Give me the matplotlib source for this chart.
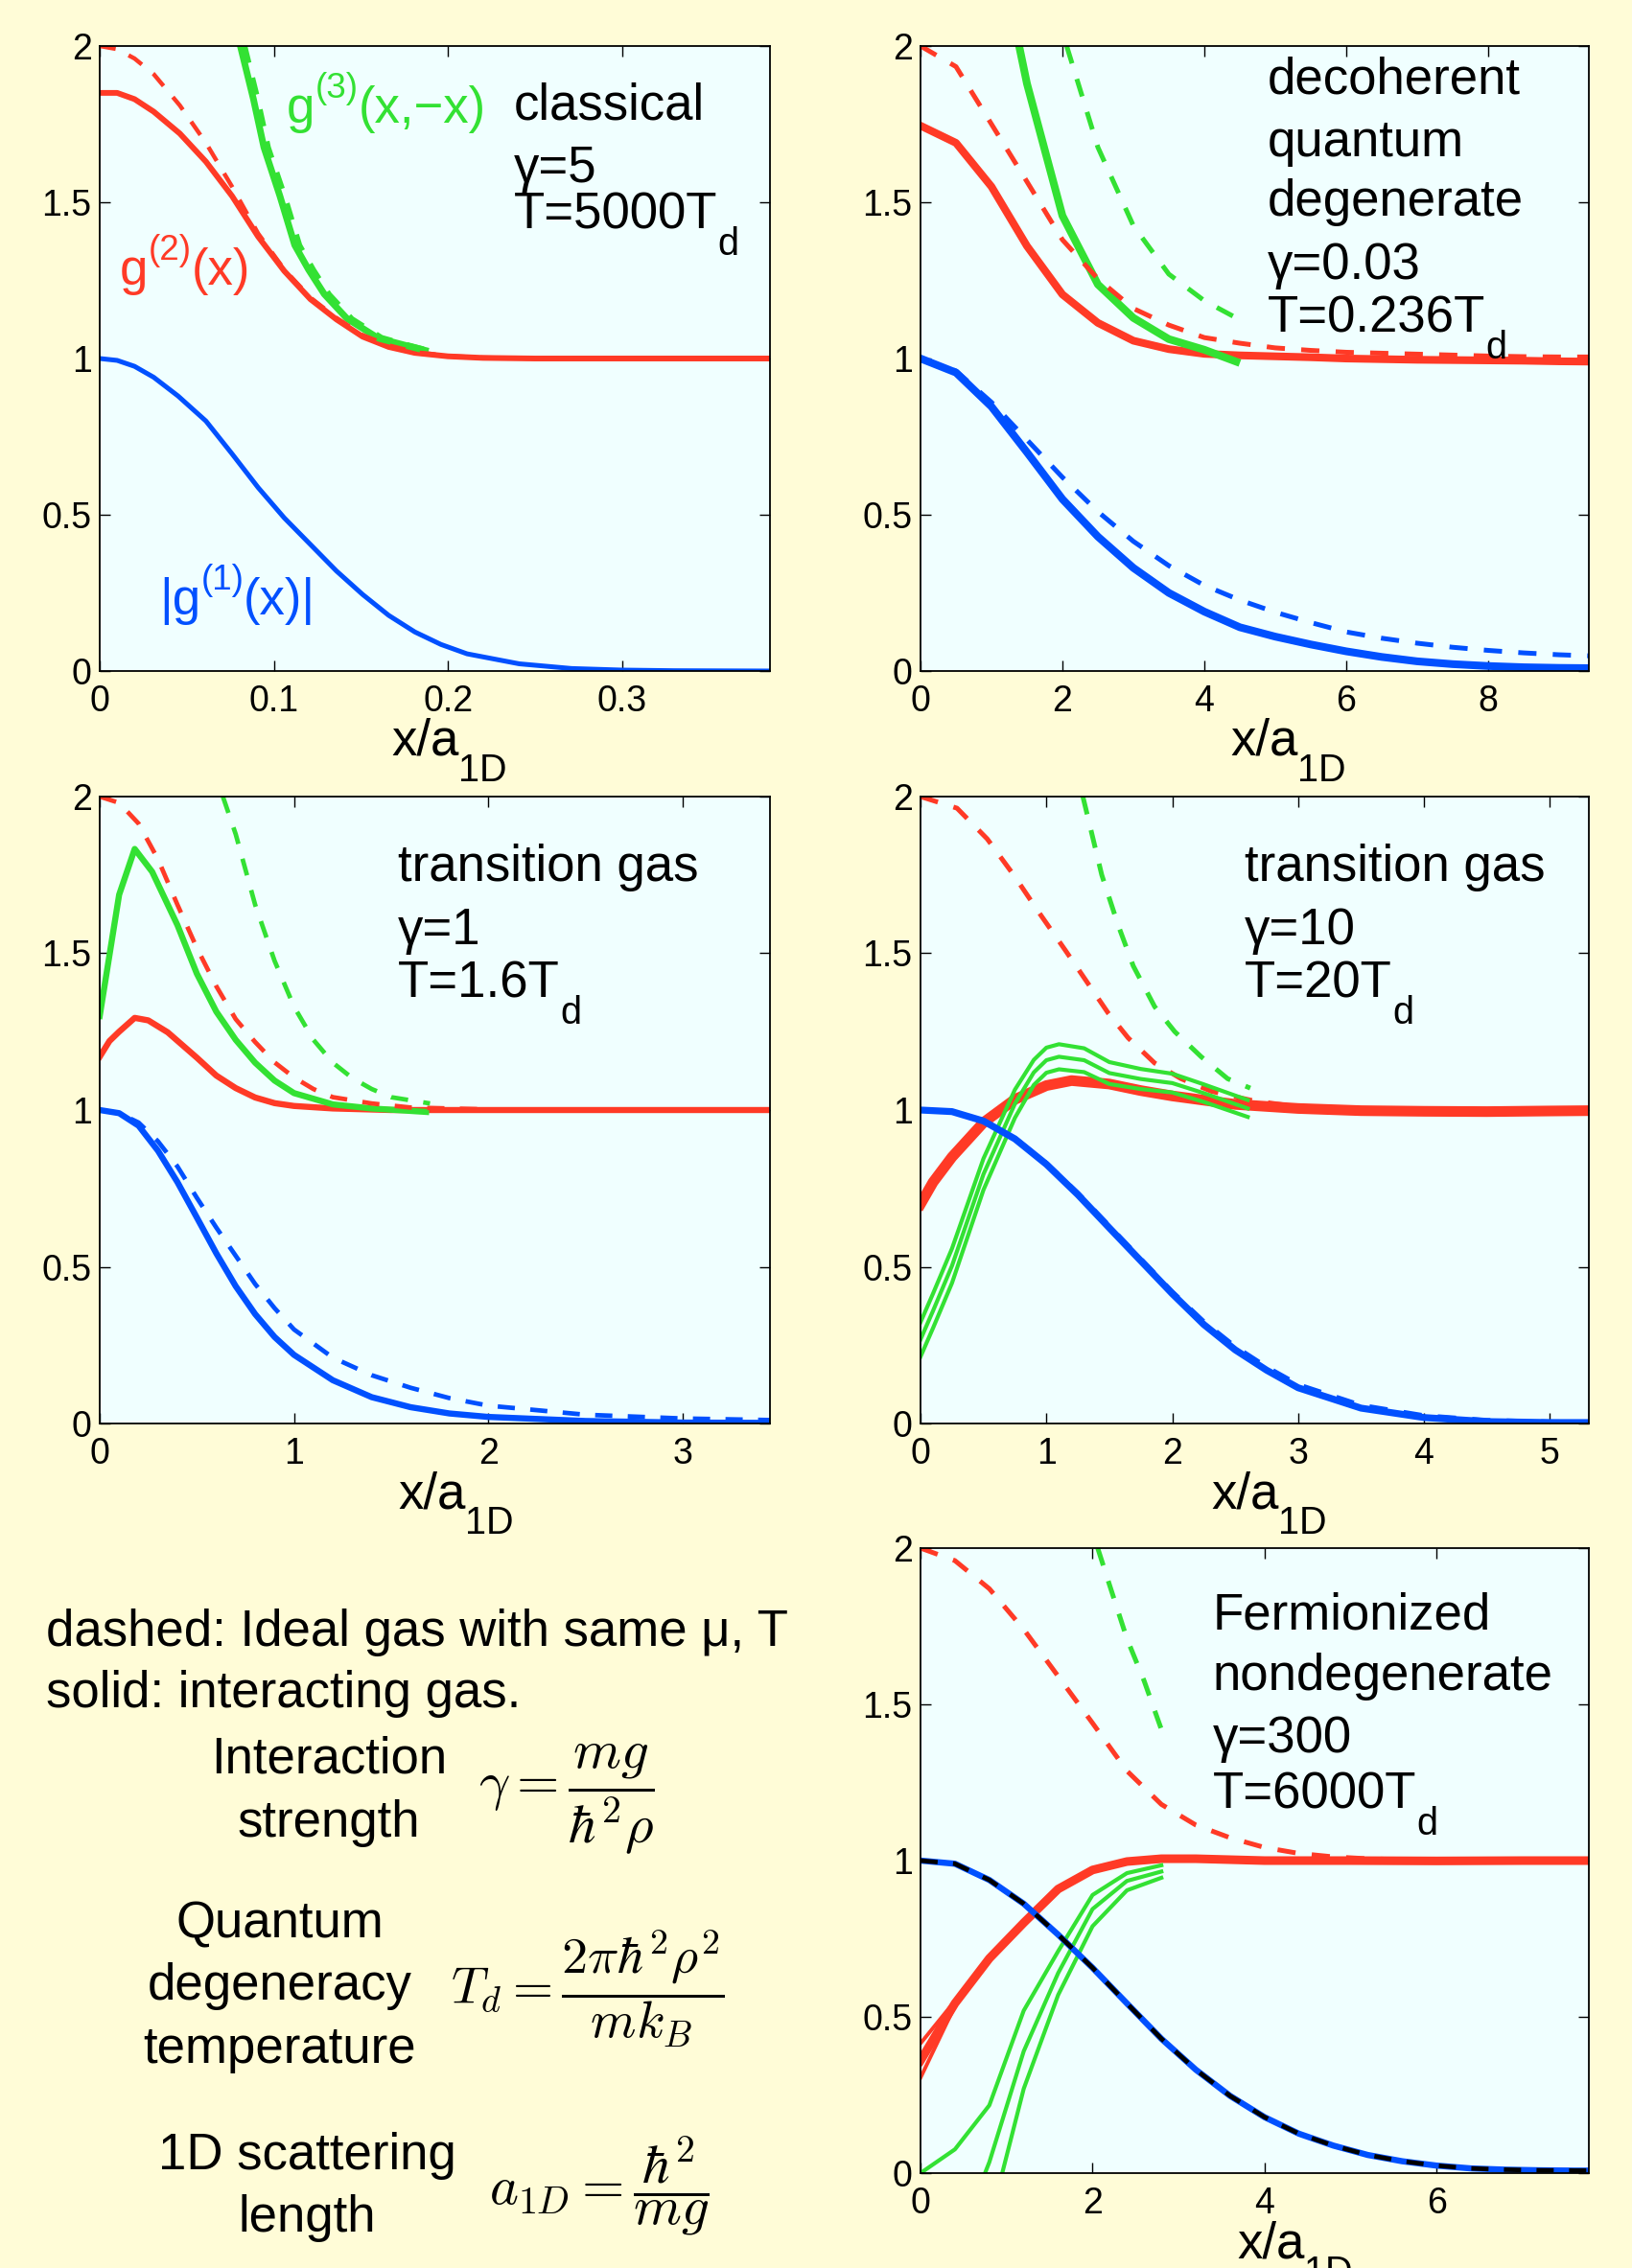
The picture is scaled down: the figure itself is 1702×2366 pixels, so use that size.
import matplotlib
matplotlib.use('Agg')
import matplotlib.pyplot as plt
from matplotlib.transforms import IdentityTransform

# ---------------- data ----------------
# Panel 1: classical, gamma=5, T=5000 Td
p1_x_g1 = [0, 0.01, 0.02, 0.031, 0.045, 0.061, 0.076, 0.091, 0.106, 0.121, 0.136, 0.151, 0.166, 0.181, 0.196, 0.211, 0.241, 0.271, 0.30, 0.33, 0.385]
p1_g1 = [1, 0.994, 0.975, 0.94, 0.88, 0.80, 0.695, 0.587, 0.49, 0.405, 0.32, 0.245, 0.178, 0.125, 0.085, 0.055, 0.023, 0.008, 0.003, 0.001, 0.0]
p1_x_g2 = [0, 0.01, 0.02, 0.031, 0.046, 0.061, 0.076, 0.091, 0.106, 0.121, 0.136, 0.151, 0.166, 0.181, 0.2, 0.22, 0.25, 0.3, 0.385]
p1_g2 = [1.85, 1.85, 1.83, 1.79, 1.72, 1.63, 1.52, 1.39, 1.28, 1.19, 1.125, 1.07, 1.037, 1.018, 1.007, 1.002, 1.0, 1.0, 1.0]
p1_g2_ideal = [2.0, 1.99, 1.96, 1.91, 1.81, 1.69, 1.55, 1.40, 1.285, 1.195, 1.13, 1.075, 1.042, 1.021, 1.008, 1.003, 1.0, 1.0, 1.0]
p1_x_g3 = [0.0808, 0.0883, 0.0943, 0.1035, 0.112, 0.12, 0.129, 0.142, 0.160, 0.175, 0.187]
p1_g3 = [2.0, 1.83, 1.676, 1.52, 1.363, 1.284, 1.206, 1.128, 1.065, 1.043, 1.026]
p1_x_g3_ideal = [0.0835, 0.091, 0.097, 0.1065, 0.115, 0.123, 0.132, 0.145, 0.162, 0.176, 0.187]
p1_g3_ideal = [2.0, 1.83, 1.676, 1.52, 1.363, 1.284, 1.206, 1.128, 1.068, 1.046, 1.03]

# Panel 2: decoherent quantum degenerate, gamma=0.03, T=0.236 Td
p2_x = [0, 0.5, 1, 1.5, 2, 2.5, 3, 3.5, 4, 4.5, 5, 5.5, 6, 6.5, 7, 7.5, 8, 8.5, 9, 9.5]
p2_g1 = [1, 0.955, 0.846, 0.70, 0.55, 0.43, 0.33, 0.25, 0.19, 0.14, 0.11, 0.085, 0.063, 0.045, 0.031, 0.022, 0.016, 0.012, 0.01, 0.009]
p2_g1_ideal = [1, 0.96, 0.86, 0.74, 0.62, 0.51, 0.415, 0.337, 0.274, 0.227, 0.188, 0.155, 0.125, 0.105, 0.089, 0.076, 0.066, 0.058, 0.052, 0.048]
p2_g2 = [1.745, 1.69, 1.55, 1.36, 1.205, 1.114, 1.057, 1.03, 1.015, 1.01, 1.007, 1.004, 1.0, 0.998, 0.996, 0.995, 0.994, 0.993, 0.991, 0.99]
p2_g2_ideal = [2.0, 1.934, 1.75, 1.566, 1.38, 1.255, 1.16, 1.107, 1.067, 1.049, 1.034, 1.026, 1.02, 1.017, 1.014, 1.011, 1.008, 1.006, 1.005, 1.005]
p2_x_g3 = [1.39, 1.5, 2, 2.5, 3, 3.5, 4, 4.45]
p2_g3 = [2.0, 1.88, 1.457, 1.237, 1.13, 1.062, 1.028, 0.99]
p2_x_g3_ideal = [2.06, 2.5, 3, 3.5, 4, 4.45]
p2_g3_ideal = [2.0, 1.676, 1.425, 1.27, 1.185, 1.13]

# Panel 3: transition gas, gamma=1, T=1.6 Td
p3_x_g1 = [0, 0.1, 0.2, 0.3, 0.4, 0.5, 0.6, 0.7, 0.8, 0.9, 1.0, 1.2, 1.4, 1.6, 1.8, 2.0, 2.5, 3.0, 3.45]
p3_g1 = [1, 0.99, 0.95, 0.87, 0.77, 0.657, 0.543, 0.438, 0.349, 0.276, 0.219, 0.138, 0.084, 0.052, 0.032, 0.021, 0.008, 0.003, 0.002]
p3_g1_ideal = [1, 0.99, 0.96, 0.90, 0.82, 0.72, 0.625, 0.535, 0.445, 0.368, 0.30, 0.21, 0.154, 0.114, 0.081, 0.057, 0.028, 0.016, 0.011]
p3_x_g2 = [0, 0.05, 0.1, 0.18, 0.25, 0.35, 0.5, 0.6, 0.7, 0.8, 0.9, 1.0, 1.2, 1.5, 2, 2.5, 3, 3.45]
p3_g2 = [1.17, 1.22, 1.25, 1.294, 1.286, 1.248, 1.167, 1.11, 1.07, 1.04, 1.022, 1.013, 1.005, 1.0, 1.0, 1.0, 1.0, 1.0]
p3_x_g2_ideal = [0, 0.1, 0.2, 0.3, 0.4, 0.5, 0.6, 0.7, 0.8, 0.9, 1.0, 1.1, 1.2, 1.4, 1.6, 2.0, 2.5, 3.0, 3.45]
p3_g2_ideal = [2.0, 1.98, 1.914, 1.80, 1.655, 1.517, 1.395, 1.29, 1.217, 1.152, 1.104, 1.067, 1.041, 1.021, 1.008, 1.002, 1.0, 1.0, 1.0]
p3_x_g3 = [0, 0.1, 0.18, 0.27, 0.4, 0.5, 0.6, 0.7, 0.8, 0.9, 1.0, 1.2, 1.4, 1.68]
p3_g3 = [1.30, 1.687, 1.833, 1.76, 1.59, 1.435, 1.314, 1.224, 1.151, 1.094, 1.054, 1.018, 1.005, 0.994]
p3_x_g3_ideal = [0.634, 0.7, 0.8, 0.9, 1.0, 1.1, 1.2, 1.3, 1.4, 1.5, 1.7]
p3_g3_ideal = [2.0, 1.88, 1.655, 1.476, 1.33, 1.224, 1.151, 1.102, 1.067, 1.041, 1.021]

# Panel 4: transition gas, gamma=10, T=20 Td
p4_x_g1 = [0, 0.25, 0.5, 0.75, 1.0, 1.25, 1.5, 1.75, 2.0, 2.25, 2.5, 2.75, 3.0, 3.5, 4.0, 4.5, 5.0, 5.31]
p4_g1 = [1, 0.995, 0.965, 0.908, 0.827, 0.73, 0.624, 0.519, 0.414, 0.316, 0.235, 0.17, 0.114, 0.049, 0.019, 0.006, 0.003, 0.003]
p4_g1_ideal = [1, 0.995, 0.965, 0.91, 0.83, 0.735, 0.63, 0.525, 0.42, 0.325, 0.245, 0.18, 0.124, 0.058, 0.025, 0.01, 0.005, 0.004]
p4_x_g2 = [0, 0.1, 0.25, 0.5, 0.75, 1.0, 1.2, 1.5, 1.75, 2.0, 2.5, 3.0, 3.5, 4.0, 4.5, 5.0, 5.31]
p4_g2 = [0.70, 0.77, 0.85, 0.96, 1.034, 1.078, 1.094, 1.083, 1.062, 1.045, 1.018, 1.005, 0.998, 0.996, 0.995, 0.997, 0.998]
p4_x_g2_ideal = [0, 0.29, 0.53, 0.74, 0.95, 1.15, 1.32, 1.49, 1.65, 1.86, 2.07, 2.31, 2.64, 3.0, 3.5, 4.0, 5.31]
p4_g2_ideal = [2.0, 1.963, 1.865, 1.75, 1.625, 1.51, 1.41, 1.31, 1.23, 1.15, 1.10, 1.06, 1.03, 1.01, 1.0, 1.0, 1.0]
p4_x_g3 = [0, 0.1, 0.25, 0.5, 0.75, 0.9, 1.0, 1.1, 1.3, 1.5, 1.75, 2.0, 2.25, 2.6]
p4_g3 = [0.268, 0.36, 0.503, 0.795, 1.02, 1.12, 1.159, 1.17, 1.159, 1.118, 1.099, 1.086, 1.054, 1.005]
p4_g3_err = [0.055, 0.055, 0.055, 0.05, 0.045, 0.04, 0.04, 0.04, 0.038, 0.035, 0.032, 0.03, 0.028, 0.027]
p4_x_g3_ideal = [1.29, 1.44, 1.57, 1.69, 1.86, 2.02, 2.23, 2.44, 2.62]
p4_g3_ideal = [2.0, 1.75, 1.59, 1.46, 1.33, 1.25, 1.17, 1.10, 1.07]

# Panel 6: Fermionized nondegenerate, gamma=300, T=6000 Td
p6_x_g1 = [0, 0.4, 0.8, 1.2, 1.6, 2.0, 2.4, 2.8, 3.2, 3.6, 4.0, 4.4, 4.8, 5.2, 5.6, 6.0, 6.4, 6.8, 7.2, 7.6, 7.77]
p6_g1 = [1, 0.99, 0.938, 0.862, 0.763, 0.657, 0.543, 0.43, 0.331, 0.247, 0.179, 0.126, 0.088, 0.058, 0.038, 0.024, 0.015, 0.011, 0.009, 0.008, 0.008]
p6_g1_ideal = [1, 0.99, 0.938, 0.862, 0.763, 0.657, 0.543, 0.43, 0.331, 0.247, 0.179, 0.126, 0.088, 0.058, 0.038, 0.024, 0.015, 0.011, 0.009, 0.008, 0.008]
p6_x_g2 = [0, 0.4, 0.8, 1.2, 1.6, 2.0, 2.4, 2.8, 3.2, 3.6, 4.0, 5.0, 6.0, 7.0, 7.77]
p6_g2 = [0.36, 0.543, 0.687, 0.801, 0.909, 0.97, 0.997, 1.006, 1.006, 1.003, 1.0, 1.0, 0.999, 1.0, 1.0]
p6_g2_err = [0.055, 0.008, 0.005, 0.004, 0.004, 0.004, 0.004, 0.004, 0.004, 0.004, 0.004, 0.004, 0.004, 0.004, 0.004]
p6_x_g2_ideal = [0, 0.4, 0.8, 1.2, 1.6, 2.0, 2.4, 2.8, 3.2, 3.6, 4.0, 4.4, 4.8, 5.2, 6.0, 7.77]
p6_g2_ideal = [2.0, 1.96, 1.87, 1.74, 1.59, 1.44, 1.287, 1.18, 1.114, 1.073, 1.042, 1.023, 1.012, 1.006, 1.0, 1.0]
p6_x_g3_hi = [0, 0.4, 0.8, 1.2, 1.6, 2.0, 2.4, 2.8]
p6_g3_hi = [0.0, 0.076, 0.217, 0.52, 0.71, 0.89, 0.96, 0.985]
p6_x_g3_mid = [0.75, 0.8, 1.2, 1.6, 2.0, 2.4, 2.8]
p6_g3_mid = [0.0, 0.035, 0.39, 0.64, 0.845, 0.935, 0.965]
p6_x_g3_lo = [0.95, 1.2, 1.6, 2.0, 2.4, 2.8]
p6_g3_lo = [0.0, 0.27, 0.57, 0.79, 0.905, 0.945]
p6_x_g3_ideal = [2.06, 2.2, 2.4, 2.6, 2.8]
p6_g3_ideal = [2.0, 1.88, 1.71, 1.575, 1.42]

y_ticks = [0, 0.5, 1, 1.5, 2]
y_ticklabels = ['0', '0.5', '1', '1.5', '2']

# ---------------- style ----------------
BG = '#FFFCD7'
AXBG = '#F0FFFF'
RED = '#FF3A26'
GREEN = '#33E133'
BLUE = '#0050FF'
DASH = (3.8, 3.4)
FS = 38
TFS = 27
MFS = 41

plt.rcParams['font.family'] = ['Liberation Sans', 'DejaVu Sans']

W, H = 1702, 2366
DPI = 100
fig = plt.figure(figsize=(W / DPI, H / DPI), dpi=DPI, facecolor=BG)
renderer = fig.canvas.get_renderer()
ID = IdentityTransform()


def rich(px, py, segs, fs=FS, color='black', ha='left'):
    """Place text segments (text, scale, baseline shift in em) one after another."""
    x = px
    em = fs * DPI / 72.0
    texts = []
    for s, sc, dy in segs:
        t = fig.text(x, py + dy * em, s, fontsize=fs * sc, color=color,
                     transform=ID, ha='left', va='baseline')
        w = t.get_window_extent(renderer).width
        texts.append(t)
        x += w
    if ha == 'center':
        shift = (x - px) / 2.0
        for t in texts:
            a, b = t.get_position()
            t.set_position((a - shift, b))
    return texts


def axtext(ax, fx, fy, segs, color='black'):
    px, py = ax.transAxes.transform((fx, fy))
    rich(px, py, segs, color=color)


SUB = 0.75
SUBDY = -0.52
SUP = 0.7
SUPDY = 0.5


def make_axes(left, top, width, height, xlim, xticks, xticklabels, xlab_off):
    ax = fig.add_axes([left / W, 1 - (top + height) / H, width / W, height / H])
    ax.set_facecolor(AXBG)
    ax.set_xlim(*xlim)
    ax.set_ylim(0, 2)
    ax.set_xticks(xticks)
    ax.set_xticklabels(xticklabels)
    ax.set_yticks(y_ticks)
    ax.set_yticklabels(y_ticklabels)
    ax.tick_params(direction='in', length=8, width=1.0, top=True, right=True,
                   labelsize=TFS, colors='black')
    ax.tick_params(axis='x', pad=10)
    ax.tick_params(axis='y', pad=6)
    for sp in ax.spines.values():
        sp.set_linewidth(1.3)
        sp.set_color('black')
    # x label "x/a_1D"
    cx = left + width / 2 + xlab_off
    rich(cx, H - (top + height + 88), [('x/a', 1, 0), ('1D', SUB, SUBDY)], ha='center')
    return ax


# ---------------- Panel 1 ----------------
ax1 = make_axes(104, 48, 699, 652, (0, 0.385), [0, 0.1, 0.2, 0.3], ['0', '0.1', '0.2', '0.3'], 15)
ax1.plot(p1_x_g1, p1_g1, color=BLUE, lw=3.6)
ax1.plot(p1_x_g2, p1_g2, color=RED, lw=4.3)
ax1.plot(p1_x_g3, p1_g3, color=GREEN, lw=5.0)
ax1.plot(p1_x_g2, p1_g2_ideal, color=RED, lw=3.2, ls='--', dashes=DASH)
ax1.plot(p1_x_g3_ideal, p1_g3_ideal, color=GREEN, lw=3.4, ls='--', dashes=DASH)
axtext(ax1, 0.279, 0.877, [('g', 1, 0), ('(3)', SUP, SUPDY), ('(x,\u2212x)', 1, 0)], color=GREEN)
axtext(ax1, 0.618, 0.882, [('classical', 1, 0)])
axtext(ax1, 0.618, 0.782, [('\u03b3=5', 1, 0)])
axtext(ax1, 0.618, 0.708, [('T=5000T', 1, 0), ('d', SUB, SUBDY)])
axtext(ax1, 0.030, 0.618, [('g', 1, 0), ('(2)', SUP, SUPDY), ('(x)', 1, 0)], color=RED)
axtext(ax1, 0.089, 0.090, [('|g', 1, 0), ('(1)', SUP, SUPDY), ('(x)|', 1, 0)], color=BLUE)

# ---------------- Panel 2 ----------------
ax2 = make_axes(960, 48, 697, 652, (0, 9.42), [0, 2, 4, 6, 8], ['0', '2', '4', '6', '8'], 35)
ax2.plot(p2_x, p2_g1, color=BLUE, lw=5.8)
ax2.plot(p2_x, p2_g2, color=RED, lw=5.8)
ax2.plot(p2_x_g3, p2_g3, color=GREEN, lw=5.8)
ax2.plot(p2_x, p2_g1_ideal, color=BLUE, lw=3.6, ls='--', dashes=DASH)
ax2.plot(p2_x, p2_g2_ideal, color=RED, lw=3.6, ls='--', dashes=DASH)
ax2.plot(p2_x_g3_ideal, p2_g3_ideal, color=GREEN, lw=3.6, ls='--', dashes=DASH)
axtext(ax2, 0.519, 0.924, [('decoherent', 1, 0)])
axtext(ax2, 0.519, 0.824, [('quantum', 1, 0)])
axtext(ax2, 0.519, 0.729, [('degenerate', 1, 0)])
axtext(ax2, 0.519, 0.627, [('\u03b3=0.03', 1, 0)])
axtext(ax2, 0.519, 0.542, [('T=0.236T', 1, 0), ('d', SUB, SUBDY)])

# ---------------- Panel 3 ----------------
ax3 = make_axes(104, 831, 699, 654, (0, 3.45), [0, 1, 2, 3], ['0', '1', '2', '3'], 22)
ax3.plot(p3_x_g1, p3_g1, color=BLUE, lw=4.6)
ax3.plot(p3_x_g2, p3_g2, color=RED, lw=4.6)
ax3.plot(p3_x_g3, p3_g3, color=GREEN, lw=4.6)
ax3.plot(p3_x_g1, p3_g1_ideal, color=BLUE, lw=3.4, ls='--', dashes=DASH)
ax3.plot(p3_x_g2_ideal, p3_g2_ideal, color=RED, lw=3.4, ls='--', dashes=DASH)
ax3.plot(p3_x_g3_ideal, p3_g3_ideal, color=GREEN, lw=3.4, ls='--', dashes=DASH)
axtext(ax3, 0.445, 0.866, [('transition gas', 1, 0)])
axtext(ax3, 0.445, 0.764, [('\u03b3=1', 1, 0)])
axtext(ax3, 0.445, 0.679, [('T=1.6T', 1, 0), ('d', SUB, SUBDY)])

# ---------------- Panel 4 ----------------
ax4 = make_axes(960, 831, 697, 654, (0, 5.31), [0, 1, 2, 3, 4, 5], ['0', '1', '2', '3', '4', '5'], 15)
ax4.plot(p4_x_g2_ideal, p4_g2_ideal, color=RED, lw=3.6, ls='--', dashes=DASH)
ax4.plot(p4_x_g3_ideal, p4_g3_ideal, color=GREEN, lw=3.6, ls='--', dashes=DASH)
ax4.plot(p4_x_g2, p4_g2, color=RED, lw=8.0)
for sgn in (1, 0, -1):
    ax4.plot(p4_x_g3, [m + sgn * e for m, e in zip(p4_g3, p4_g3_err)], color=GREEN, lw=3.0)
ax4.plot(p4_x_g1, p4_g1, color=BLUE, lw=5.2)
ax4.plot(p4_x_g1, p4_g1_ideal, color=BLUE, lw=3.6, ls='--', dashes=DASH)
axtext(ax4, 0.485, 0.866, [('transition gas', 1, 0)])
axtext(ax4, 0.485, 0.764, [('\u03b3=10', 1, 0)])
axtext(ax4, 0.485, 0.679, [('T=20T', 1, 0), ('d', SUB, SUBDY)])

# ---------------- Panel 6 ----------------
ax6 = make_axes(960, 1615, 697, 652, (0, 7.77), [0, 2, 4, 6], ['0', '2', '4', '6'], 42)
ax6.plot(p6_x_g2_ideal, p6_g2_ideal, color=RED, lw=3.6, ls='--', dashes=DASH)
ax6.plot(p6_x_g3_ideal, p6_g3_ideal, color=GREEN, lw=3.6, ls='--', dashes=DASH)
ax6.plot(p6_x_g2, p6_g2, color=RED, lw=6.5)
for sgn in (1, -1):
    ax6.plot(p6_x_g2, [m + sgn * e for m, e in zip(p6_g2, p6_g2_err)], color=RED, lw=2.8)
ax6.plot(p6_x_g3_hi, p6_g3_hi, color=GREEN, lw=3.0)
ax6.plot(p6_x_g3_mid, p6_g3_mid, color=GREEN, lw=3.0)
ax6.plot(p6_x_g3_lo, p6_g3_lo, color=GREEN, lw=3.0)
ax6.plot(p6_x_g1, p6_g1, color=BLUE, lw=4.6)
ax6.plot(p6_x_g1, p6_g1_ideal, color='black', lw=3.4, ls='--', dashes=DASH)
axtext(ax6, 0.437, 0.870, [('Fermionized', 1, 0)])
axtext(ax6, 0.437, 0.773, [('nondegenerate', 1, 0)])
axtext(ax6, 0.437, 0.674, [('\u03b3=300', 1, 0)])
axtext(ax6, 0.437, 0.583, [('T=6000T', 1, 0), ('d', SUB, SUBDY)])

# ---------------- explanatory text ----------------
rich(48, H - 1717, [('dashed: Ideal gas with same \u03bc, T', 1, 0)])
rich(48, H - 1781, [('solid: interacting gas.', 1, 0)])
rich(343, H - 1850, [('Interaction', 1, 0)], ha='center')
rich(343, H - 1916, [('strength', 1, 0)], ha='center')
rich(292, H - 2021, [('Quantum', 1, 0)], ha='center')
rich(292, H - 2086, [('degeneracy', 1, 0)], ha='center')
rich(292, H - 2152, [('temperature', 1, 0)], ha='center')
rich(320, H - 2263, [('1D scattering', 1, 0)], ha='center')
rich(320, H - 2328, [('length', 1, 0)], ha='center')

fig.text(499, H - 1877, r'$\gamma = \dfrac{mg}{\hbar^2\rho}$', fontsize=MFS, transform=ID,
         ha='left', va='center', math_fontfamily='cm')
fig.text(470, H - 2075, r'$T_d = \dfrac{2\pi\hbar^2\rho^2}{mk_B}$', fontsize=MFS - 2, transform=ID,
         ha='left', va='center', math_fontfamily='cm')
fig.text(510, H - 2280, r'$a_{1D} = \dfrac{\hbar^2}{mg}$', fontsize=MFS, transform=ID,
         ha='left', va='center', math_fontfamily='cm')

fig.savefig('out.png', dpi=DPI, facecolor=BG)
